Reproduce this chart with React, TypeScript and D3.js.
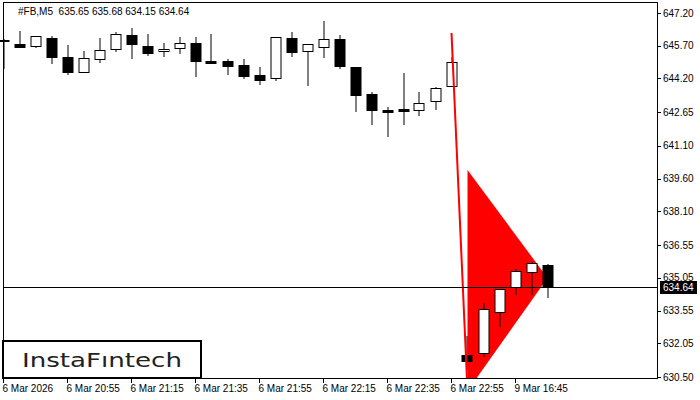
import React from "react";
import * as d3 from "d3";

// ---- data ----
const opens = [645.96, 645.78, 645.70, 646.04, 645.17, 644.51, 645.10, 645.53, 646.18, 645.67, 645.46, 645.58, 645.81, 644.98, 644.98, 644.81, 644.36, 644.23, 646.04, 645.47, 645.65, 646.01, 644.71, 643.47, 642.75, 642.80, 642.74, 643.15, 643.84, 631.50, 631.59, 633.47, 634.62, 635.33, 635.65];
const highs = [646.01, 646.37, 646.14, 646.14, 645.73, 645.46, 646.05, 646.31, 646.50, 646.24, 645.82, 646.09, 646.09, 646.24, 645.09, 645.09, 644.72, 646.09, 646.33, 645.76, 646.83, 646.19, 644.71, 643.58, 642.89, 644.45, 643.58, 643.80, 645.20, 632.38, 633.88, 634.52, 635.45, 635.76, 635.68];
const lows = [644.68, 645.62, 645.65, 644.92, 644.40, 644.51, 644.97, 645.46, 645.12, 645.27, 645.24, 645.35, 644.32, 644.92, 644.41, 644.20, 643.96, 644.13, 645.24, 643.91, 645.20, 644.69, 642.70, 642.12, 641.57, 642.12, 642.53, 642.78, 643.84, 630.85, 631.46, 632.85, 634.32, 634.32, 634.15];
const closes = [645.92, 645.66, 646.14, 645.20, 644.51, 645.12, 645.50, 646.22, 645.79, 645.35, 645.55, 645.81, 645.01, 644.92, 644.78, 644.32, 644.14, 646.09, 645.42, 645.76, 645.99, 644.78, 643.45, 642.76, 642.67, 642.72, 643.06, 643.75, 644.94, 631.22, 633.61, 634.52, 635.35, 635.72, 634.64];

const timeTickIndex = [0, 4, 8, 12, 16, 20, 24, 28, 32];
const timeTickLabels = ["6 Mar 2026", "6 Mar 20:55", "6 Mar 21:15", "6 Mar 21:35", "6 Mar 21:55", "6 Mar 22:15", "6 Mar 22:35", "6 Mar 22:55", "9 Mar 16:45"];
const priceTicks = [647.20, 645.70, 644.20, 642.65, 641.10, 639.60, 638.10, 636.55, 635.05, 633.55, 632.05, 630.50];

const currentPrice = 634.64;
const headerText = "#FB,M5  635.65 635.68 634.15 634.64";

// pennant (triangle) and flagpole
const pennantIndex = [29, 29, 34];
const pennantPrice = [640.0, 629.86, 635.04];
const poleIndex = [28, 29];
const polePrice = [646.28, 629.86];

const FONT = "'Liberation Sans', Arial, sans-serif";

export default function App() {
  const W = 700, H = 400;
  const left = 3, right = 657, top = 2, bottom = 379;

  const x = d3.scaleLinear().domain([0, 34]).range([3.5, 547.5]);
  const y = d3.scaleLinear().domain([630.5, 647.2]).range([377, 13]);

  const tri = d3.line<number>()
    .x((i) => x(pennantIndex[i]))
    .y((i) => y(pennantPrice[i]))
    .curve(d3.curveLinearClosed)(d3.range(pennantIndex.length));
  const pole = d3.line<number>()
    .x((i) => x(poleIndex[i]))
    .y((i) => y(polePrice[i]))(d3.range(poleIndex.length));

  return (
    <svg width={W} height={H} style={{ position: "fixed", left: 0, top: 0, background: "#fff" }}>
      <defs>
        <clipPath id="plot">
          <rect x={left} y={top} width={right - left} height={bottom - top} />
        </clipPath>
      </defs>
      <rect x={0} y={0} width={W} height={H} fill="#fff" />

      {/* pennant triangle */}
      <path d={tri || ""} fill="#ff0000" clipPath="url(#plot)" />

      {/* candles */}
      {opens.map((o, i) => {
        const c = closes[i];
        const cx = Math.round(x(i)) - 0.5 + 0.5;
        const up = c > o;
        const yt = Math.round(y(Math.max(o, c))) + 0.5;
        const yb = Math.round(y(Math.min(o, c))) + 0.5;
        return (
          <g key={i}>
            <line x1={cx} x2={cx} y1={Math.round(y(highs[i]))} y2={Math.round(y(lows[i])) + 1} stroke="#000" strokeWidth={1} />
            <rect x={cx - 5} y={yt} width={10} height={Math.max(1, yb - yt)} fill={up ? "#fff" : "#000"} stroke="#000" strokeWidth={1} />
          </g>
        );
      })}

      {/* flagpole */}
      <path d={pole || ""} stroke="#ff0000" strokeWidth={2} fill="none" clipPath="url(#plot)" />

      {/* current price line */}
      <line x1={left} x2={right} y1={Math.round(y(currentPrice)) + 0.5} y2={Math.round(y(currentPrice)) + 0.5} stroke="#000" strokeWidth={1} />

      {/* frame */}
      <rect x={left + 0.5} y={top + 0.5} width={right - left} height={bottom - top - 1} fill="none" stroke="#000" strokeWidth={1} />

      {/* price axis */}
      {priceTicks.map((p, i) => (
        <g key={i}>
          <line x1={right} x2={right + 4} y1={Math.round(y(p)) + 0.5} y2={Math.round(y(p)) + 0.5} stroke="#000" />
          <text x={663} y={y(p)} dy="0.35em" fontFamily={FONT} fontSize={10} fill="#000">{p.toFixed(2)}</text>
        </g>
      ))}
      <rect x={660} y={Math.round(y(currentPrice)) - 6} width={37} height={13} fill="#000" />
      <text x={663} y={y(currentPrice) + 0.5} dy="0.35em" fontFamily={FONT} fontSize={10} fill="#fff">{currentPrice.toFixed(2)}</text>

      {/* time axis */}
      {timeTickIndex.map((ti, i) => (
        <g key={i}>
          <line x1={x(ti)} x2={x(ti)} y1={bottom} y2={bottom + 4} stroke="#000" />
          <text x={x(ti) - 1} y={392} fontFamily={FONT} fontSize={10} fill="#000">{timeTickLabels[i]}</text>
        </g>
      ))}

      {/* header */}
      <text x={18} y={15} fontFamily={FONT} fontSize={10} fill="#000" style={{ whiteSpace: "pre" }}>{headerText}</text>

      {/* logo */}
      <rect x={3} y={341} width={198} height={37} fill="#fff" stroke="#000" strokeWidth={2} />
      <text x={22} y={367} fontFamily="'DejaVu Sans', sans-serif" fontSize={20} fill="#222" textLength={160} lengthAdjust="spacingAndGlyphs">InstaFıntech</text>
    </svg>
  );
}
